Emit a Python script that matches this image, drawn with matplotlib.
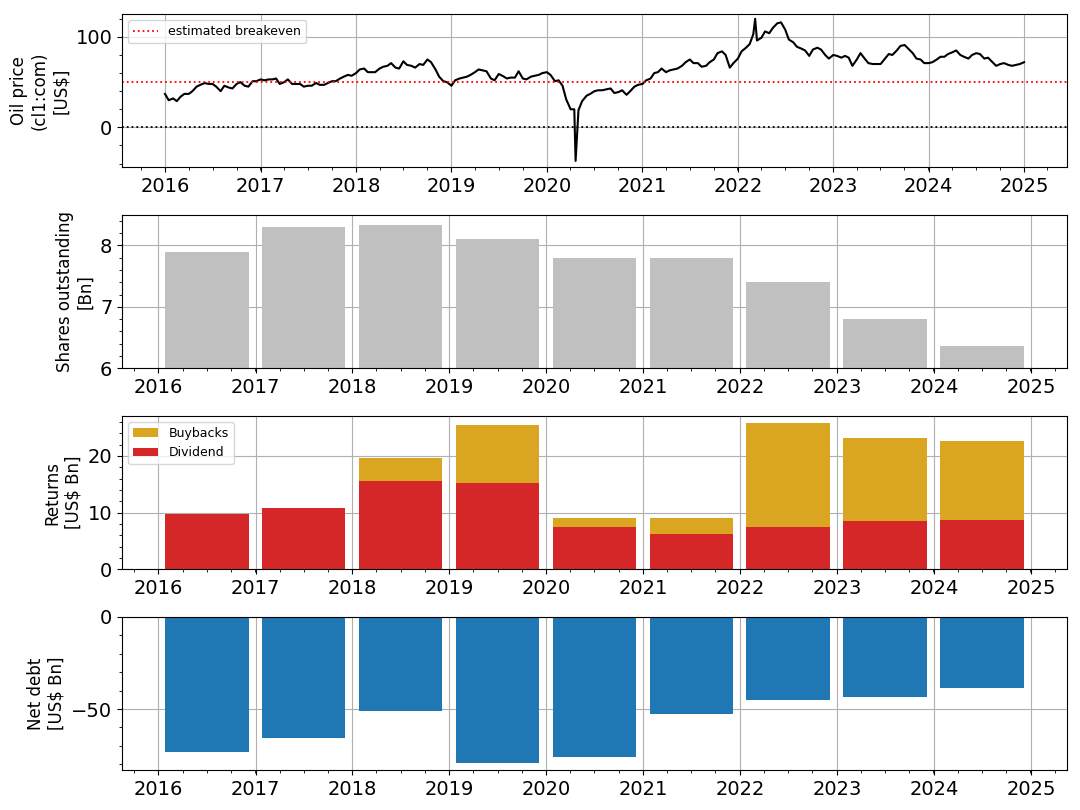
import datetime as dt
import numpy as np
import pandas as pd
import matplotlib
matplotlib.use('Agg')
import matplotlib.pyplot as plt
import matplotlib.dates as mdates
from matplotlib.ticker import MultipleLocator, AutoMinorLocator

oil_2016 = [37, 30, 32, 29, 34, 37, 37, 40, 45, 47, 49, 48, 48, 45, 40, 46, 44, 43, 48, 50, 46, 45, 51, 51]
oil_2017 = [53, 52, 53, 53, 54, 48, 50, 53, 48, 48, 48, 45, 46, 46, 49, 47, 47, 49, 51, 51, 54, 56, 58, 57]
oil_2018 = [60, 64, 65, 61, 61, 61, 65, 67, 68, 71, 66, 65, 73, 69, 68, 66, 70, 69, 75, 72, 64, 56, 51, 50]
oil_2019 = [46, 52, 54, 55, 56, 58, 61, 64, 63, 62, 54, 52, 59, 57, 54, 55, 55, 62, 54, 53, 56, 57, 58, 60]
oil_2020 = [61, 58, 51, 52, 46, 31, 20, 20, 19, 29, 35, 37, 40, 41, 41, 42, 43, 38, 39, 41, 36, 40, 45, 47]
oil_2021 = [48, 52, 54, 60, 61, 65, 61, 63, 64, 65, 68, 72, 75, 71, 71, 67, 68, 72, 75, 82, 84, 80, 66, 71]
oil_2022 = [76, 84, 88, 92, 103, 96, 99, 106, 104, 110, 115, 116, 108, 97, 94, 89, 87, 85, 79, 86, 88, 86, 80, 76]
oil_2023 = [80, 79, 77, 79, 77, 68, 75, 82, 76, 71, 70, 70, 70, 75, 81, 80, 85, 90, 91, 87, 82, 76, 75, 71]
oil_2024 = [71, 72, 75, 78, 78, 81, 83, 85, 80, 78, 76, 80, 82, 81, 76, 77, 72, 68, 70, 71, 69, 68, 69, 70]
# single days that stand out
spike_dates = ['2020-04-20', '2022-03-08', '2024-12-31']
spike_values = [-37, 120, 72]

breakeven = 50

years = [2016, 2017, 2018, 2019, 2020, 2021, 2022, 2023, 2024]
shares = [7.89, 8.30, 8.34, 8.10, 7.80, 7.80, 7.40, 6.80, 6.36]
dividend = [9.7, 10.8, 15.6, 15.2, 7.5, 6.2, 7.5, 8.5, 8.65]
buybacks = [0.0, 0.0, 4.0, 10.2, 1.6, 2.9, 18.3, 14.6, 13.95]
net_debt = [-73.5, -66.0, -51.3, -79.3, -75.8, -52.7, -44.9, -43.5, -38.5]

# build the oil series
oil_vals = oil_2016 + oil_2017 + oil_2018 + oil_2019 + oil_2020 + oil_2021 + oil_2022 + oil_2023 + oil_2024
oil_days = []
for y in years:
    for m in range(1, 13):
        oil_days.append(pd.Timestamp(y, m, 1))
        oil_days.append(pd.Timestamp(y, m, 15))
oil = pd.Series(oil_vals, index=oil_days)
oil = pd.concat([oil, pd.Series(spike_values, index=pd.to_datetime(spike_dates))]).sort_index()

bar_x = mdates.date2num([dt.datetime(y, 7, 1) for y in years])
bar_w = 315

fig, axs = plt.subplots(4, 1, figsize=(10.8, 8.1), dpi=100)
plt.subplots_adjust(left=0.113, right=0.988, top=0.983, bottom=0.049, hspace=0.31)

# oil price
ax = axs[0]
ax.plot(oil.index, oil.values, color='k', lw=1.5)
ax.axhline(breakeven, color='red', ls=':', lw=1.3, label='estimated breakeven')
ax.axhline(0, color='k', ls=':', lw=1.3)
ax.set_ylim(-44, 125.5)
ax.yaxis.set_major_locator(MultipleLocator(100))
ax.set_ylabel('Oil price\n(cl1:com)\n[US$]', fontsize=12)
ax.legend(loc='upper left', fontsize=9)

# shares outstanding
ax = axs[1]
ax.bar(bar_x, shares, width=bar_w, color='silver')
ax.set_ylim(6, 8.5)
ax.yaxis.set_major_locator(MultipleLocator(1))
ax.set_ylabel('Shares outstanding\n[Bn]', fontsize=12)

# returns
ax = axs[2]
b1 = ax.bar(bar_x, dividend, width=bar_w, color='tab:red')
b2 = ax.bar(bar_x, buybacks, width=bar_w, bottom=dividend, color='goldenrod')
ax.yaxis.set_major_locator(MultipleLocator(10))
ax.set_ylabel('Returns\n[US$ Bn]', fontsize=12)
ax.legend([b2, b1], ['Buybacks', 'Dividend'], loc='upper left', fontsize=9)

# net debt
ax = axs[3]
ax.bar(bar_x, net_debt, width=bar_w, color='tab:blue')
ax.yaxis.set_major_locator(MultipleLocator(50))
ax.set_ylabel('Net debt\n[US$ Bn]', fontsize=12)

for ax in axs:
    ax.xaxis.set_major_locator(mdates.YearLocator())
    ax.xaxis.set_major_formatter(mdates.DateFormatter('%Y'))
    ax.xaxis.set_minor_locator(AutoMinorLocator(4))
    ax.yaxis.set_minor_locator(AutoMinorLocator(5))
    ax.tick_params(labelsize=14)
    ax.grid(True)
    ax.set_axisbelow(True)

plt.savefig('out.png')
